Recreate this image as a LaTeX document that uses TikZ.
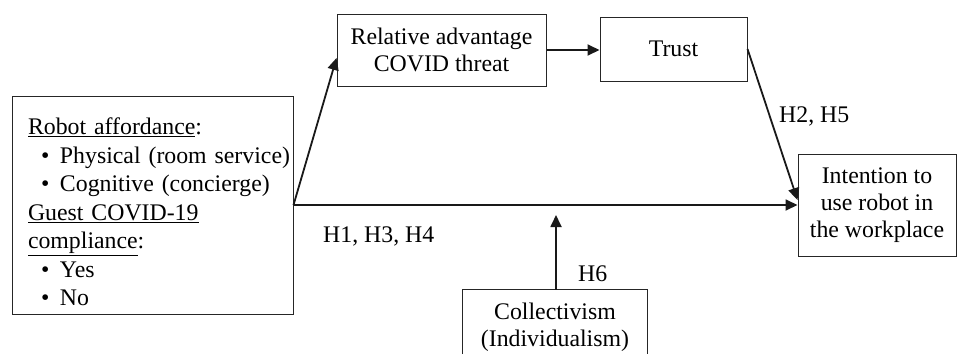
\documentclass[tikz,border=0pt]{standalone}
\usepackage{fontspec}
\setmainfont{Liberation Serif}
\usetikzlibrary{arrows.meta,calc}
\newcommand\myfs{\fontsize{23.8pt}{27pt}\selectfont}
\newcommand\bul[1]{\mbox{\hspace*{13pt}\makebox[19pt][l]{\textbullet}#1}}
\begin{document}
\begin{tikzpicture}[x=1pt,y=-1pt,
  box/.style={draw=black!85, line width=1pt, inner sep=0pt, align=center, font=\myfs},
  lbl/.style={inner sep=0pt, anchor=base west, font=\myfs},
  arr/.style={draw=black!90, line width=1.8pt, -{Triangle[length=12pt,width=11pt]}}]
\useasboundingbox (0,0) rectangle (960,354);
% boxes
\node[box, minimum width=281pt, minimum height=218pt, text width=249pt, align=left,
  font=\fontsize{23.8pt}{28.5pt}\selectfont] (left) at (152.5,205)
  {\rule{0pt}{30.3pt}\underline{Robot affordance}:\\
   \bul{Physical (room service)}\\
   \bul{Cognitive (concierge)}\\
   \underline{Guest COVID-19}\\
   \underline{compliance}:\\
   \bul{Yes}\\
   \bul{No}};
\node[box, minimum width=209pt, minimum height=72pt] (rel) at (441.5,50)
  {Relative advantage\\COVID threat};
\node[box, minimum width=147pt, minimum height=64pt] (trust) at (673.5,49) {Trust};
\node[box, minimum width=158pt, minimum height=102pt] (int) at (877,205)
  {Intention to\\use robot in\\the workplace};
\node[inner sep=0pt, minimum width=184pt, minimum height=64pt] (coll) at (555,322) {};
\node[inner sep=0pt, align=center, font=\myfs] (colltext) at (555,327)
  {Collectivism\\(Individualism)};
\draw[draw=black!85, line width=1pt] (coll.south west) |- (coll.north east) -- (coll.south east);
% labels
\node[lbl] (h134) at (323,242) {H1, H3, H4};
\node[lbl] (h25) at (779,122) {H2, H5};
\node[lbl] (h6) at (578,281) {H6};
% connectors
\coordinate (h6tip) at (556,215);
\draw[arr] (left.east) -- ($(rel.west)+(0,8)$);
\draw[arr] (rel.east) -- (rel.east -| trust.west);
\draw[arr] (trust.east) -- ($(int.west)+(0,-5)$);
\draw[arr] (left.east) -- (int.west);
\draw[arr] (coll.north -| h6tip) -- (h6tip);
\end{tikzpicture}
\end{document}
